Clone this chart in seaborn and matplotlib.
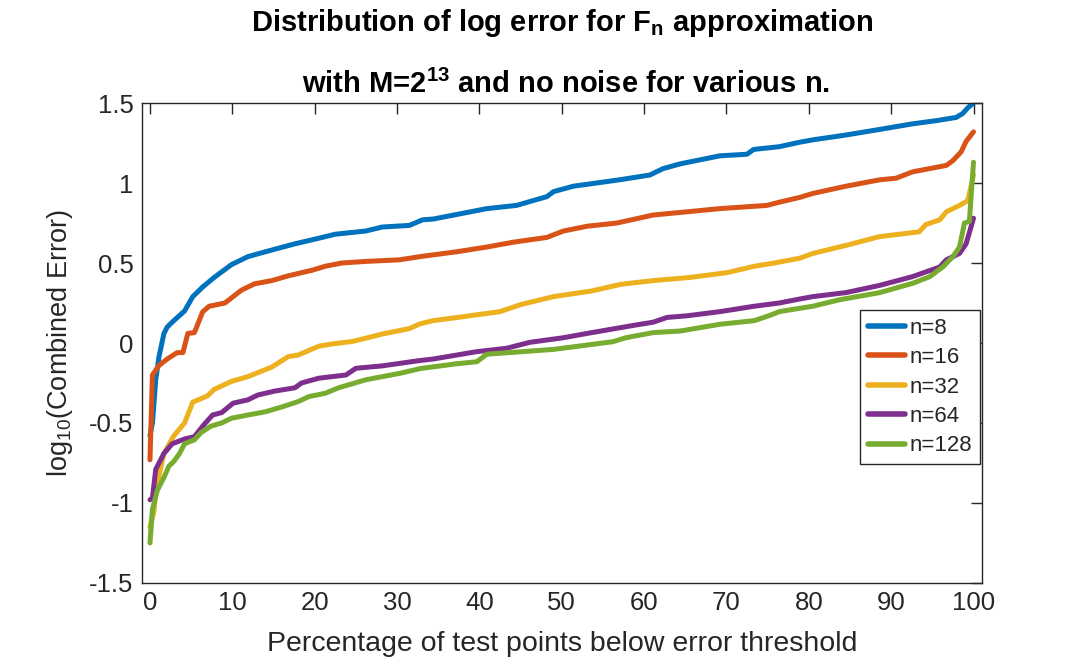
import numpy as np
import pandas as pd
import matplotlib
matplotlib.use("Agg")
import matplotlib.pyplot as plt
import seaborn as sns

# ---------------- data ----------------
series_names = ["n=8", "n=16", "n=32", "n=64", "n=128"]
series_colors = ["#0072BD", "#D95319", "#EDB120", "#7E2F8E", "#77AC30"]

x_n8 = [0, 0.3, 0.7, 1.1, 1.7, 2.1, 2.9, 4.2, 5.2, 6.4, 7.8, 9.9, 11.9, 14, 17.6, 20.1,
        22.5, 26.2, 28.2, 31.5, 33.1, 34.4, 40.9, 44.5, 48.2, 49, 51.4, 57, 60.7, 62.3,
        64.4, 69.2, 72.5, 73.3, 76.4, 78.9, 80.5, 84.5, 88.6, 92.6, 95.5, 97.9, 98.7, 99.3, 100]
y_n8 = [-0.58, -0.5, -0.23, -0.085, 0.06, 0.10, 0.14, 0.20, 0.29, 0.35, 0.41, 0.49, 0.54, 0.57,
        0.62, 0.65, 0.68, 0.70, 0.725, 0.735, 0.77, 0.775, 0.84, 0.86, 0.915, 0.946, 0.98, 1.02,
        1.05, 1.09, 1.12, 1.17, 1.18, 1.21, 1.227, 1.255, 1.27, 1.30, 1.335, 1.37, 1.39, 1.41,
        1.435, 1.47, 1.50]

x_n16 = [0, 0.3, 1.1, 2.1, 3.3, 4.0, 4.6, 5.4, 6.4, 7.2, 9.1, 11.1, 12.7, 14.8, 16.8, 19.7,
         21.3, 23.3, 26.2, 30.3, 32.8, 37.2, 40.9, 44.1, 48.2, 50.2, 53.1, 56.7, 61.1, 65.2,
         69.2, 74.9, 76.4, 78.9, 80.5, 84.5, 88.6, 90.6, 92.6, 96.7, 97.5, 98.5, 99.1, 100]
y_n16 = [-0.73, -0.2, -0.14, -0.10, -0.06, -0.06, 0.06, 0.065, 0.195, 0.23, 0.25, 0.33, 0.37,
         0.39, 0.42, 0.455, 0.48, 0.50, 0.51, 0.52, 0.54, 0.57, 0.60, 0.63, 0.66, 0.70, 0.73,
         0.75, 0.80, 0.82, 0.84, 0.86, 0.88, 0.91, 0.935, 0.98, 1.02, 1.03, 1.07, 1.11, 1.14,
         1.195, 1.26, 1.32]

x_n32 = [0, 0.5, 0.7, 1.7, 2.9, 4.2, 5.2, 7.0, 7.8, 9.9, 11.9, 14.8, 16.8, 18, 20.5, 22.1,
         24.6, 26.2, 28.2, 31.5, 32.8, 34.4, 38.1, 42.5, 45, 49, 53.6, 57.2, 61.1, 65.6, 70.1,
         73.4, 75.8, 78.9, 80.5, 84.5, 88.6, 93.4, 94.2, 95.9, 96.7, 98.3, 99.3, 99.7, 100]
y_n32 = [-1.15, -1.05, -0.92, -0.69, -0.58, -0.50, -0.37, -0.33, -0.29, -0.24, -0.21, -0.15,
         -0.085, -0.075, -0.02, -0.006, 0.01, 0.03, 0.056, 0.09, 0.12, 0.14, 0.165, 0.196, 0.24,
         0.29, 0.325, 0.367, 0.39, 0.41, 0.44, 0.48, 0.50, 0.53, 0.56, 0.61, 0.665, 0.695, 0.74,
         0.77, 0.82, 0.86, 0.89, 0.98, 1.05]

x_n64 = [0, 0.3, 0.7, 1.7, 2.7, 4.2, 5.4, 6.4, 7.6, 8.7, 10.1, 11.9, 13.1, 15.2, 17.6, 18.4,
         20.5, 23.8, 25, 28.2, 32.7, 34.4, 39.7, 43.3, 46.1, 50.2, 53.1, 58.7, 61.1, 62.8, 65.2,
         69.2, 73.4, 76.4, 78.9, 80.5, 84.5, 88.6, 92.6, 95.9, 96.7, 98.3, 99.1, 100]
y_n64 = [-0.98, -0.97, -0.79, -0.69, -0.63, -0.60, -0.585, -0.52, -0.45, -0.435, -0.376, -0.355,
         -0.325, -0.30, -0.28, -0.25, -0.22, -0.20, -0.158, -0.143, -0.11, -0.10, -0.054, -0.033,
         0.004, 0.033, 0.06, 0.11, 0.13, 0.16, 0.17, 0.196, 0.23, 0.25, 0.275, 0.29, 0.315, 0.36,
         0.415, 0.475, 0.52, 0.56, 0.62, 0.78]

x_n128 = [0, 0.3, 0.9, 1.7, 2.3, 2.9, 3.6, 4.2, 5.4, 6.2, 7.4, 8.7, 9.9, 11.9, 14, 16, 18, 19.3,
          21.3, 22.9, 26.2, 30.3, 32.8, 37.2, 39.7, 40.9, 49, 56.2, 57.8, 61.1, 64.4, 69.2, 73.4,
          75.4, 76.4, 78.9, 80.5, 83.7, 88.6, 92.6, 94.7, 96.3, 97.5, 98.3, 98.9, 99.5, 100]
y_n128 = [-1.25, -1.04, -0.92, -0.84, -0.77, -0.74, -0.69, -0.63, -0.605, -0.56, -0.52, -0.50,
          -0.47, -0.45, -0.43, -0.40, -0.366, -0.335, -0.314, -0.28, -0.23, -0.19, -0.16, -0.13,
          -0.117, -0.07, -0.04, 0.008, 0.033, 0.065, 0.075, 0.117, 0.14, 0.175, 0.196, 0.217,
          0.23, 0.27, 0.315, 0.373, 0.415, 0.477, 0.54, 0.60, 0.75, 0.76, 1.13]

x_ticks = [0, 10, 20, 30, 40, 50, 60, 70, 80, 90, 100]
y_ticks = [-1.5, -1, -0.5, 0, 0.5, 1, 1.5]
y_tick_labels = ["-1.5", "-1", "-0.5", "0", "0.5", "1", "1.5"]

title_line1 = r"Distribution of log error for F$_{\mathbf{n}}$ approximation"
title_line2 = r"with M=2$^{\mathbf{13}}$ and no noise for various n."
x_label = "Percentage of test points below error threshold"
y_label = r"log$_{10}$(Combined Error)"

# ---------------- build table ----------------
xs = [x_n8, x_n16, x_n32, x_n64, x_n128]
ys = [y_n8, y_n16, y_n32, y_n64, y_n128]
frames = []
for name, xv, yv in zip(series_names, xs, ys):
    frames.append(pd.DataFrame({"pct": xv, "err": yv, "series": name}))
df = pd.concat(frames, ignore_index=True)

# ---------------- style ----------------
sns.set_theme(style="white")
plt.rcParams["font.family"] = ["Liberation Sans", "DejaVu Sans"]
plt.rcParams["mathtext.fontset"] = "custom"
plt.rcParams["mathtext.rm"] = "Liberation Sans"
plt.rcParams["mathtext.it"] = "Liberation Sans"
plt.rcParams["mathtext.bf"] = "Liberation Sans:bold"
plt.rcParams["mathtext.default"] = "regular"

dark = "#262626"
fig = plt.figure(figsize=(10.86, 6.63), dpi=100)
ax = fig.add_axes([0.1305, 0.1207, 0.7735, 0.7239])

sns.lineplot(data=df, x="pct", y="err", hue="series", hue_order=series_names,
             palette=series_colors, estimator=None, sort=False, linewidth=3.6,
             ax=ax, legend=True)

ax.set_xlim(-1, 101)
ax.set_ylim(-1.5, 1.5)
ax.set_xticks(x_ticks)
ax.set_xticklabels([str(t) for t in x_ticks])
ax.set_yticks(y_ticks)
ax.set_yticklabels(y_tick_labels)
ax.tick_params(axis="both", which="both", direction="in", length=8, width=1,
               top=True, right=True, labelsize=18.5, colors=dark, pad=6)
ax.tick_params(axis="both", labelcolor=dark)
for sp in ax.spines.values():
    sp.set_visible(True)
    sp.set_color(dark)
    sp.set_linewidth(1)

ax.set_xlabel(x_label, fontsize=20.5, color=dark, labelpad=11)
ax.set_ylabel(y_label, fontsize=19.5, color=dark, labelpad=10)

fig.text(0.518, 0.965, title_line1, ha="center", va="center", fontsize=21,
         fontweight="bold", color="black")
fig.text(0.521, 0.872, title_line2, ha="center", va="center", fontsize=21,
         fontweight="bold", color="black")

leg = ax.legend(loc="upper left", bbox_to_anchor=(0.855, 0.569), fontsize=16,
                frameon=True, fancybox=False, edgecolor=dark, framealpha=1,
                handlelength=1.7, handletextpad=0.2, borderpad=0.35,
                labelspacing=0.38, borderaxespad=0)
leg.get_frame().set_linewidth(1)
for line in leg.get_lines():
    line.set_linewidth(4)

fig.savefig("out.png", dpi=100)
